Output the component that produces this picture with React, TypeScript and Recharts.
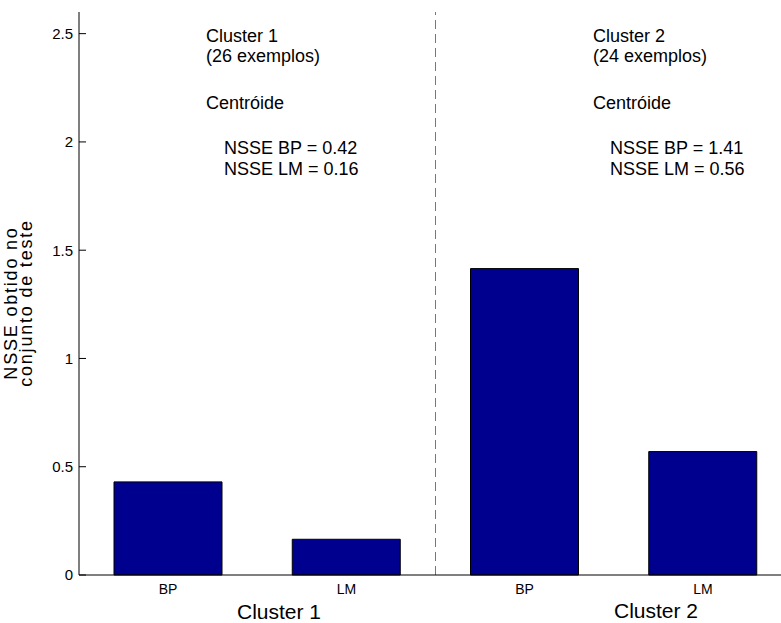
import {
  Bar,
  BarChart,
  ReferenceLine,
  XAxis,
  YAxis,
} from 'recharts';

const methods = ['BP', 'LM', 'BP', 'LM'];
const positions = [1, 2, 3, 4];
const nsseValues = [0.43, 0.165, 1.415, 0.57];
const yTicks = [0, 0.5, 1, 1.5, 2, 2.5];

const cluster1Notes = ['Cluster 1', '(26 exemplos)', 'Centróide', 'NSSE BP = 0.42', 'NSSE LM = 0.16'];
const cluster2Notes = ['Cluster 2', '(24 exemplos)', 'Centróide', 'NSSE BP = 1.41', 'NSSE LM = 0.56'];
const groupLabels = ['Cluster 1', 'Cluster 2'];
const yLabelLines = ['NSSE obtido no', 'conjunto de teste'];

const data = positions.map((pos, i) => ({ pos, method: methods[i], value: nsseValues[i] }));

const FONT = '"Liberation Sans", Arial, Helvetica, sans-serif';

function YTick(props: any) {
  const { x, y, payload } = props;
  return (
    <g>
      <line x1={x + 6} x2={x + 13} y1={y} y2={y} stroke="#000" />
      <text x={x} y={y} dy="0.36em" textAnchor="end" fontSize={15} fill="#000" fontFamily={FONT}>
        {payload.value}
      </text>
    </g>
  );
}

function XTick(props: any) {
  const { x, y, payload } = props;
  return (
    <text x={x} y={y} dy="0.71em" textAnchor="middle" fontSize={14} fill="#000" fontFamily={FONT}>
      {methods[positions.indexOf(payload.value)]}
    </text>
  );
}

function Notes({ lines, x, nsseX }: { lines: string[]; x: number; nsseX: number }) {
  return (
    <g fontSize={18} fontFamily={FONT} fill="#000">
      <text x={x} y={42}>{lines[0]}</text>
      <text x={x} y={62}>{lines[1]}</text>
      <text x={x} y={109}>{lines[2]}</text>
      <text x={nsseX} y={154}>{lines[3]}</text>
      <text x={nsseX} y={175}>{lines[4]}</text>
    </g>
  );
}

export default function App() {
  return (
    <div
      style={{
        position: 'fixed',
        left: 0,
        top: 0,
        width: 781,
        height: 623,
        overflow: 'hidden',
        background: '#fff',
        fontFamily: FONT,
      }}
    >
      <BarChart
        width={800}
        height={623}
        data={data}
        margin={{ top: 12, right: 8, bottom: 0, left: 0 }}
      >
        <XAxis
          xAxisId="top"
          orientation="top"
          type="number"
          dataKey="pos"
          domain={[0.5, 4.5]}
          ticks={positions}
          height={0}
          mirror
          tickSize={7}
          tickFormatter={() => ''}
          stroke="#000"
        />
        <XAxis
          xAxisId="bottom"
          type="number"
          dataKey="pos"
          domain={[0.5, 4.5]}
          ticks={positions}
          height={48}
          tickSize={0}
          tickMargin={9}
          tickLine={false}
          tick={<XTick />}
          stroke="#000"
        />
        <YAxis
          type="number"
          domain={[0, 2.6]}
          ticks={yTicks}
          width={79}
          tickSize={0}
          tickMargin={6}
          tickLine={false}
          tick={<YTick />}
          stroke="#000"
        />
        <ReferenceLine
          xAxisId="bottom"
          x={2.5}
          stroke="#777"
          strokeDasharray="9 5"
        />
        <Bar
          xAxisId="bottom"
          dataKey="value"
          barSize={108}
          fill="#00008F"
          stroke="#000"
          strokeWidth={1}
          isAnimationActive={false}
        />
      </BarChart>
      <svg
        width={781}
        height={623}
        style={{ position: 'absolute', left: 0, top: 0, pointerEvents: 'none' }}
      >
        <Notes lines={cluster1Notes} x={206} nsseX={224} />
        <Notes lines={cluster2Notes} x={593} nsseX={610} />
        <g fontSize={21} fontFamily={FONT} fill="#000" textAnchor="middle">
          <text x={279} y={619}>{groupLabels[0]}</text>
          <text x={656} y={618}>{groupLabels[1]}</text>
        </g>
        <g fontSize={18} fontFamily={FONT} fill="#000" textAnchor="middle" letterSpacing={1.8}>
          <text transform="translate(17,303) rotate(-90)">{yLabelLines[0]}</text>
          <text transform="translate(32,303) rotate(-90)">{yLabelLines[1]}</text>
        </g>
      </svg>
    </div>
  );
}
